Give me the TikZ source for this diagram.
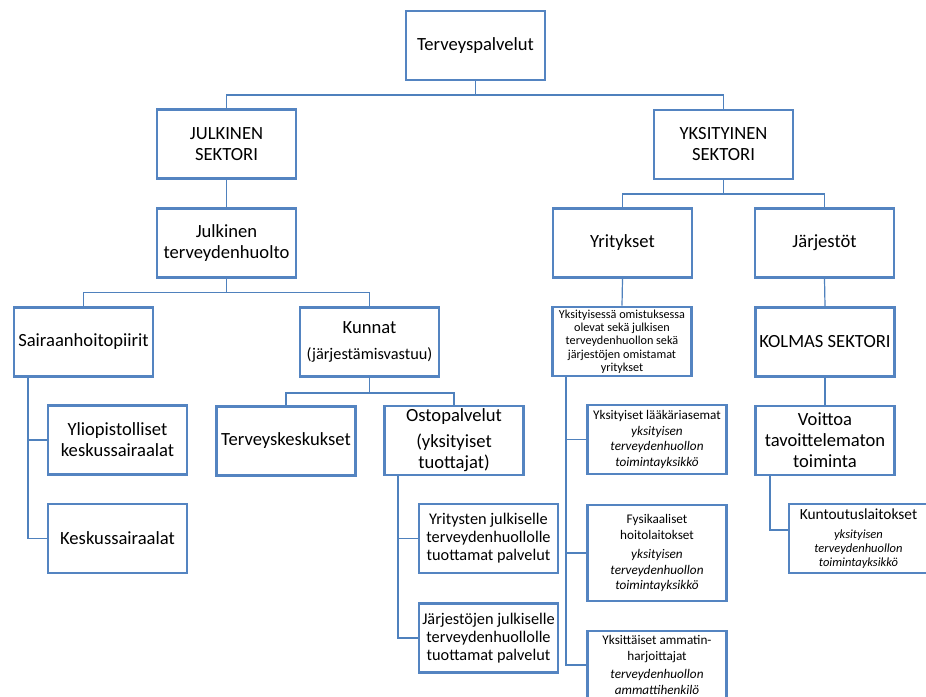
\documentclass[tikz,border=0pt]{standalone}
\usepackage{fontspec}
\setmainfont{Carlito}
\definecolor{bcol}{RGB}{84,132,193}
\definecolor{ccol}{RGB}{79,129,189}
\begin{document}
\begin{tikzpicture}[x=1pt,y=-1pt,
  box/.style={draw=bcol, line width=2.9pt, fill=white, minimum width=139pt, minimum height=69pt,
    inner sep=0pt, align=center, font=\fontsize{18.6}{21}\selectfont},
  midbox/.style={box, font=\fontsize{16.3}{18}\selectfont},
  smallbox/.style={box, font=\fontsize{12.2}{13.3}\selectfont},
  unitbox/.style={box, font=\fontsize{13.2}{15.5}\selectfont},
  conn/.style={draw=ccol, line width=1.2pt}]
\useasboundingbox (0,0) rectangle (926,696);
\fill[white] (0,0) rectangle (926,696);
% nodes
\node[box] (top) at (475.5,45.5) {Terveyspalvelut};
\node[box] (jul) at (226.5,144) {JULKINEN\\SEKTORI};
\node[box] (yks) at (723.5,144.5) {YKSITYINEN\\SEKTORI};
\node[box] (jth) at (226.5,243) {Julkinen\\terveydenhuolto};
\node[box] (yri) at (622.5,243) {Yritykset};
\node[box] (jar) at (824.5,243) {Järjestöt};
\node[box] (sai) at (83.5,342) {Sairaanhoitopiirit};
\node[box] (kun) at (369.5,342) {Kunnat\\[5pt]{\fontsize{16.3}{19}\selectfont (järjestämisvastuu)}};
\node[smallbox] (yom) at (622,341.5) {Yksityisessä omistuksessa\\olevat sekä julkisen\\terveydenhuollon sekä\\järjestöjen omistamat\\yritykset};
\node[box] (kol) at (825,342) {KOLMAS SEKTORI};
\node[box] (ter) at (286,441) {Terveyskeskukset};
\node[box] (ost) at (454,440.5) {Ostopalvelut\\[5pt](yksityiset\\tuottajat)};
\node[box] (yli) at (117.5,440) {Yliopistolliset\\keskussairaalat};
\node[box] (voi) at (825,440.5) {Voittoa\\tavoittelematon\\toiminta};
\node[unitbox] (lak) at (657,439.5) {Yksityiset lääkäriasemat\\[0pt]\itshape yksityisen\\\itshape terveydenhuollon\\\itshape toimintayksikkö};
\node[box] (kes) at (117.5,538.5) {Keskussairaalat};
\node[midbox] (yrt) at (488.5,538.5) {Yritysten julkiselle\\terveydenhuollolle\\tuottamat palvelut};
\node[box, font=\fontsize{12.5}{14}\selectfont] (kul) at (858.5,538.5) {{\fontsize{15.4}{17}\selectfont Kuntoutuslaitokset}\\[5pt]\itshape yksityisen\\\itshape terveydenhuollon\\\itshape toimintayksikkö};
\node[unitbox, minimum height=96pt] (fys) at (657,553) {Fysikaaliset\\hoitolaitokset\\[4pt]\itshape yksityisen\\\itshape terveydenhuollon\\\itshape toimintayksikkö};
\node[midbox] (jrt) at (488.5,638) {Järjestöjen julkiselle\\terveydenhuollolle\\tuottamat palvelut};
\node[unitbox, minimum height=68pt] (yam) at (657,665) {Yksittäiset ammatin-\\harjoittajat\\[3pt]\itshape terveydenhuollon\\\itshape ammattihenkilö};
% connectors
\path[conn] (top.south) -- (top.south |- 0,95);
\path[conn] (jul.north) |- (yks.north |- 0,95) -- (yks.north);
\path[conn] (jul.south) -- (jth.north);
\path[conn] (yks.south) -- (yks.south |- 0,194);
\path[conn] (yri.north) |- (jar.north |- 0,194) -- (jar.north);
\path[conn] (jth.south) -- (jth.south |- 0,292.5);
\path[conn] (sai.north) |- (kun.north |- 0,292.5) -- (kun.north);
\path[conn] (kun.south) -- (kun.south |- 0,393);
\path[conn] (ter.north) |- (ost.north |- 0,393) -- (ost.north);
\path[conn] (yri.south) -- (yom.north);
\path[conn] (jar.south) -- (kol.north);
\path[conn] (kol.south) -- (voi.north);
\path[conn] (sai.south -| 28,0) |- (kes.west);
\path[conn] (sai.south -| 28,0) |- (yli.west);
\path[conn] (ost.south -| 398,0) |- (jrt.west);
\path[conn] (ost.south -| 398,0) |- (yrt.west);
\path[conn] (yom.south -| 566,0) |- (yam.west);
\path[conn] (yom.south -| 566,0) |- (fys.west);
\path[conn] (yom.south -| 566,0) |- (lak.west);
\path[conn] (voi.south -| 770,0) |- (kul.west |- 0,530);
\end{tikzpicture}
\end{document}
